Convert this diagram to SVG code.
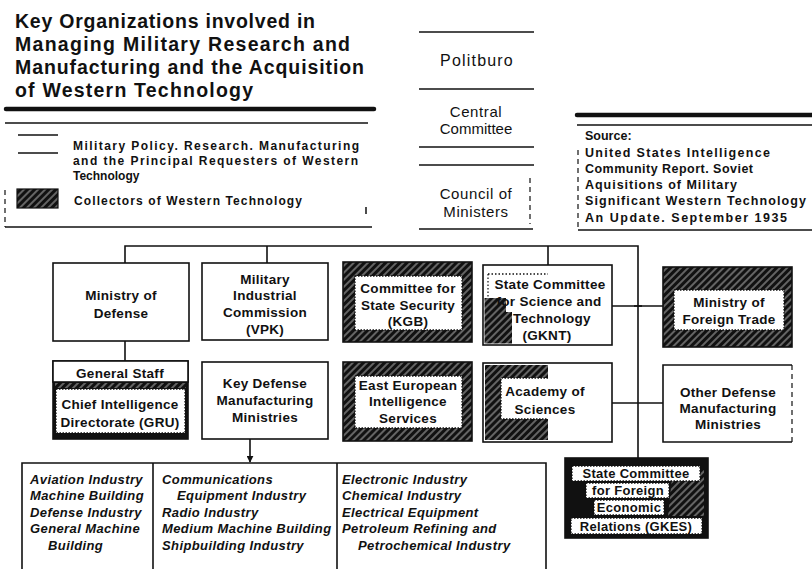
<svg xmlns="http://www.w3.org/2000/svg" width="812" height="569" viewBox="0 0 812 569">
<defs>
<pattern id="hatch" width="5" height="5" patternUnits="userSpaceOnUse" patternTransform="rotate(45)">
<rect width="5" height="5" fill="#111"/>
<line x1="1" y1="0" x2="1" y2="5" stroke="#fff" stroke-width="0.7"/>
</pattern>
<marker id="arr" viewBox="0 0 10 10" refX="9" refY="5" markerWidth="7" markerHeight="7" orient="auto" markerUnits="userSpaceOnUse">
<path d="M0,0 L10,5 L0,10 Z" fill="#111"/>
</marker>
</defs>
<style>
text{font-family:"Liberation Sans",Arial,sans-serif;fill:#111}
.title{font-weight:bold;font-size:19.5px}
.leg{font-weight:bold;font-size:12px}
.hdr{font-size:15px;text-anchor:middle;letter-spacing:0.6px}
.src{font-weight:bold;font-size:12.5px}
.lbl{font-weight:bold;font-size:13.5px;text-anchor:middle;letter-spacing:0.3px}
.ind{font-weight:bold;font-style:italic;font-size:13px;letter-spacing:0.4px}
.box{fill:#fff;stroke:#111;stroke-width:1.6}
.col{fill:url(#hatch);stroke:#111;stroke-width:1.6}
.dark{fill:#111;stroke:#111;stroke-width:1.6}
.dots{fill:#fff;stroke:#111;stroke-width:1.3;stroke-dasharray:1.5 1.5}
.ln{stroke:#111;stroke-width:1.5;fill:none}
.thick{stroke:#111;stroke-width:4.5;stroke-linecap:round;fill:none}
.dash{stroke:#111;stroke-width:1.2;stroke-dasharray:5 4;fill:none}
.conn{stroke:#111;stroke-width:1.6;fill:none}
</style>
<rect width="812" height="569" fill="#fff"/>

<g id="title">
<text class="title" x="15" y="28" textLength="300">Key Organizations involved in</text>
<text class="title" x="15" y="51" textLength="335">Managing Military Research and</text>
<text class="title" x="15" y="74" textLength="349">Manufacturing and the Acquisition</text>
<text class="title" x="15" y="97" textLength="238">of Western Technology</text>
<line class="thick" x1="6" y1="109" x2="374" y2="109"/>
</g>

<g id="legend">
<line class="ln" x1="5" y1="123" x2="368" y2="123"/>
<line class="ln" x1="18" y1="135" x2="58" y2="135"/>
<line class="ln" x1="18" y1="153" x2="58" y2="153"/>
<text class="leg" x="73" y="150" textLength="286">Military Policy. Research. Manufacturing</text>
<text class="leg" x="73" y="165" textLength="285">and the Principal Requesters of Western</text>
<text class="leg" x="73" y="180">Technology</text>
<rect x="17" y="189" width="41" height="19" fill="url(#hatch)" stroke="#111" stroke-width="1.2"/>
<text class="leg" x="74" y="205" textLength="228">Collectors of Western Technology</text>
<line class="dash" x1="5" y1="190" x2="5" y2="227"/>
<line class="ln" x1="366" y1="207" x2="366" y2="214"/>
<line class="ln" x1="5" y1="227" x2="372" y2="227"/>
</g>

<g id="leadership">
<line class="ln" x1="419" y1="32" x2="534" y2="32"/>
<text class="hdr" x="477" y="66" style="font-size:16px;letter-spacing:1.2px">Politburo</text>
<line class="ln" x1="419" y1="89" x2="534" y2="89"/>
<text class="hdr" x="476" y="117">Central</text>
<text class="hdr" x="476" y="134" style="letter-spacing:0">Committee</text>
<line class="ln" x1="419" y1="147" x2="534" y2="147"/>
<line class="ln" x1="419" y1="165" x2="534" y2="165"/>
<text class="hdr" x="476" y="199">Council of</text>
<text class="hdr" x="476" y="217">Ministers</text>
<line class="dash" x1="530" y1="178" x2="530" y2="224"/>
<line class="ln" x1="419" y1="229" x2="533" y2="229"/>
</g>

<g id="source">
<line class="thick" x1="577" y1="115" x2="812" y2="115"/>
<line class="ln" x1="577" y1="125" x2="812" y2="125"/>
<text class="src" x="585" y="140">Source:</text>
<text class="src" x="585" y="157" textLength="185">United States Intelligence</text>
<text class="src" x="585" y="173" textLength="168">Community Report. Soviet</text>
<text class="src" x="585" y="189" textLength="152">Aquisitions of Military</text>
<text class="src" x="585" y="205" textLength="221">Significant Western Technology</text>
<text class="src" x="585" y="222" textLength="202">An Update. September 1935</text>
<line class="dash" x1="578" y1="150" x2="578" y2="229"/>
<line class="ln" x1="578" y1="230" x2="812" y2="230"/>
</g>

<g id="connectors">
<path class="conn" d="M125,263 V246 H638 V458"/>
<path class="conn" d="M267,246 V263"/>
<path class="conn" d="M548,246 V265"/>
<path class="conn" d="M125,341 V361"/>
<path class="conn" d="M612,306 H663"/>
<path class="conn" d="M634,306 H642"/>
<path class="conn" d="M612,403 H663"/>
<path class="conn" d="M250,439 V462" marker-end="url(#arr)"/>
</g>

<g id="mod">
<rect class="box" x="53" y="263" width="136" height="78"/>
<text class="lbl" x="121" y="300">Ministry of</text>
<text class="lbl" x="121" y="318">Defense</text>
</g>

<g id="vpk">
<rect class="box" x="202" y="263" width="126" height="77"/>
<text class="lbl" x="265" y="284">Military</text>
<text class="lbl" x="265" y="300">Industrial</text>
<text class="lbl" x="265" y="317">Commission</text>
<text class="lbl" x="265" y="334">(VPK)</text>
</g>

<g id="kgb">
<rect class="col" x="343" y="262" width="129" height="80"/>
<rect class="dots" x="355" y="276" width="107" height="54"/>
<text class="lbl" x="408" y="293">Committee for</text>
<text class="lbl" x="408" y="310">State Security</text>
<text class="lbl" x="408" y="326">(KGB)</text>
</g>

<g id="gknt">
<rect class="box" x="483" y="265" width="129" height="80"/>
<path d="M484.5,298 H506 V312 H512 V343.5 H484.5 Z" fill="url(#hatch)"/>
<rect x="513" y="327" width="62" height="15" fill="#fff"/>
<line x1="488" y1="274" x2="548" y2="274" stroke="#111" stroke-width="1.4" stroke-dasharray="1.5 2"/>
<line x1="488" y1="274" x2="488" y2="298" stroke="#111" stroke-width="1.2" stroke-dasharray="1.5 2"/>
<text class="lbl" x="550" y="289">State Committee</text>
<text class="lbl" x="549" y="306">for Science and</text>
<text class="lbl" x="552" y="323">Technology</text>
<text class="lbl" x="547" y="340">(GKNT)</text>
</g>

<g id="foreign-trade">
<rect class="col" x="663" y="267" width="129" height="80"/>
<rect class="dots" x="674" y="290" width="110" height="40"/>
<text class="lbl" x="729" y="307">Ministry of</text>
<text class="lbl" x="729" y="324">Foreign Trade</text>
</g>

<g id="gru">
<rect class="dark" x="53" y="361" width="135" height="78"/>
<rect x="53" y="361" width="135" height="21" fill="#fff" stroke="#111" stroke-width="1.6"/>
<rect x="55" y="383" width="131" height="5" fill="url(#hatch)"/>
<rect class="dots" x="56" y="389" width="129" height="44"/>
<text class="lbl" x="120" y="378">General Staff</text>
<text class="lbl" x="120" y="409">Chief Intelligence</text>
<text class="lbl" x="120" y="427">Directorate (GRU)</text>
</g>

<g id="key-defense">
<rect class="box" x="202" y="362" width="126" height="77"/>
<text class="lbl" x="265" y="388">Key Defense</text>
<text class="lbl" x="265" y="405">Manufacturing</text>
<text class="lbl" x="265" y="422">Ministries</text>
</g>

<g id="east-european">
<rect class="col" x="343" y="362" width="129" height="79"/>
<rect class="dots" x="355" y="376" width="107" height="52"/>
<text class="lbl" x="408" y="390">East European</text>
<text class="lbl" x="408" y="406">Intelligence</text>
<text class="lbl" x="408" y="423">Services</text>
</g>

<g id="academy">
<rect class="box" x="483" y="363" width="129" height="79"/>
<rect x="485" y="365" width="63" height="75" fill="url(#hatch)"/>
<rect x="501" y="378" width="88" height="41" fill="#fff"/>
<path d="M548,378 H501 V419 H548" fill="none" stroke="#111" stroke-width="1.3" stroke-dasharray="1.5 1.5"/>
<text class="lbl" x="545" y="396">Academy of</text>
<text class="lbl" x="545" y="414">Sciences</text>
</g>

<g id="other-defense">
<path class="ln" d="M792,365 H663 V442 H792" style="stroke-width:1.6"/>
<line class="dash" x1="792" y1="365" x2="792" y2="442"/>
<text class="lbl" x="728" y="397">Other Defense</text>
<text class="lbl" x="728" y="413">Manufacturing</text>
<text class="lbl" x="728" y="429">Ministries</text>
</g>

<g id="gkes">
<rect class="dark" x="565" y="458" width="143" height="80"/>
<path d="M672,478 L704,470 L704,516 L668,516 Z" fill="url(#hatch)"/>
<rect class="dots" x="572" y="466" width="128" height="15"/>
<rect class="dots" x="586" y="483" width="83" height="15"/>
<rect class="dots" x="594" y="500" width="70" height="15"/>
<rect class="dots" x="571" y="518" width="131" height="16"/>
<text class="lbl" x="636" y="478" style="font-size:13px">State Committee</text>
<text class="lbl" x="628" y="495" style="font-size:13px">for Foreign</text>
<text class="lbl" x="629" y="512" style="font-size:13px">Economic</text>
<text class="lbl" x="636" y="531" style="font-size:13px">Relations (GKES)</text>
</g>

<g id="industries">
<path class="ln" d="M22,569 V463 H546 V569" style="stroke-width:1.6"/>
<line class="ln" x1="153" y1="463" x2="153" y2="569" style="stroke-width:1.6"/>
<line class="ln" x1="337" y1="463" x2="337" y2="569" style="stroke-width:1.6"/>
<text class="ind" x="30" y="484">Aviation Industry</text>
<text class="ind" x="30" y="500">Machine Building</text>
<text class="ind" x="30" y="517">Defense Industry</text>
<text class="ind" x="30" y="533">General Machine</text>
<text class="ind" x="48" y="550">Building</text>
<text class="ind" x="162" y="484">Communications</text>
<text class="ind" x="177" y="500">Equipment Industry</text>
<text class="ind" x="162" y="517">Radio Industry</text>
<text class="ind" x="162" y="533">Medium Machine Building</text>
<text class="ind" x="162" y="550">Shipbuilding Industry</text>
<text class="ind" x="342" y="484">Electronic Industry</text>
<text class="ind" x="342" y="500">Chemical Industry</text>
<text class="ind" x="342" y="517">Electrical Equipment</text>
<text class="ind" x="342" y="533">Petroleum Refining and</text>
<text class="ind" x="358" y="550">Petrochemical Industry</text>
</g>
</svg>
